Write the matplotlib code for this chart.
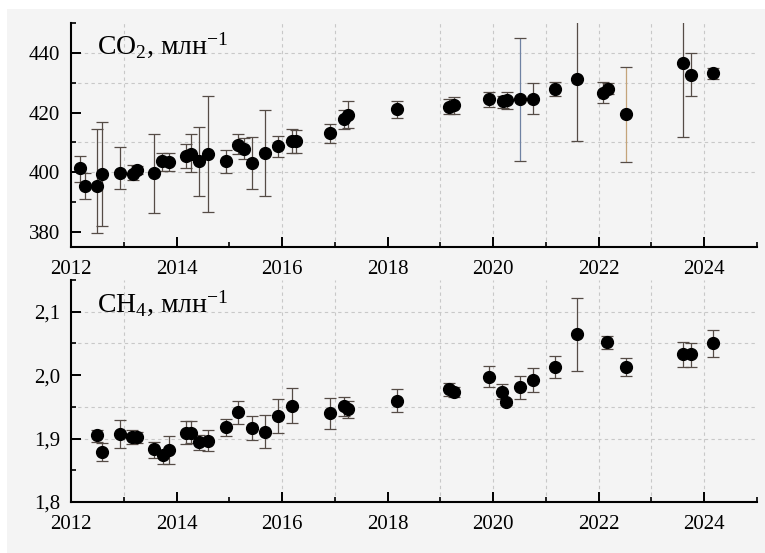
import matplotlib
matplotlib.use("Agg")
import matplotlib.pyplot as plt
from matplotlib.patches import Rectangle
import numpy as np

# CO2, ppm
co2_year = [2012.17, 2012.27, 2012.50, 2012.59, 2012.92, 2013.17, 2013.26, 2013.58,
            2013.73, 2013.86, 2014.17, 2014.27, 2014.43, 2014.59, 2014.93, 2015.16,
            2015.27, 2015.43, 2015.67, 2015.93, 2016.18, 2016.26, 2016.91, 2017.17,
            2017.25, 2018.17, 2019.17, 2019.26, 2019.92, 2020.18, 2020.26, 2020.51,
            2020.75, 2021.17, 2021.59, 2022.09, 2022.17, 2022.51, 2023.59, 2023.75,
            2024.17]
co2_value = [401.3, 395.4, 395.4, 399.4, 399.9, 399.4, 400.8, 399.7, 403.9, 403.5,
             405.5, 406.1, 403.7, 406.1, 403.7, 409.1, 407.9, 403.0, 406.6, 408.8,
             410.6, 410.4, 413.2, 417.8, 419.2, 421.1, 422.0, 422.4, 424.4, 423.9,
             424.2, 424.4, 424.7, 427.8, 431.2, 426.7, 428.0, 419.4, 436.7, 432.6,
             433.2]
co2_hi = [405.6, 399.7, 414.5, 416.7, 408.6, 402.4, 402.1, 412.7, 406.6, 406.6,
          409.4, 412.7, 415.3, 425.7, 407.5, 412.7, 411.6, 411.7, 420.9, 412.3,
          414.6, 414.2, 416.2, 420.9, 423.8, 424.0, 424.6, 425.1, 426.8, 425.6,
          426.9, 444.9, 430.0, 430.1, 451.8, 430.1, 429.9, 435.4, 461.7, 440.1,
          434.8]
co2_lo = [396.9, 391.1, 379.6, 382.1, 394.4, 397.4, 399.5, 386.5, 400.4, 400.4,
          401.5, 400.0, 392.1, 386.7, 399.9, 406.1, 404.4, 394.4, 392.1, 405.0,
          406.6, 406.6, 409.9, 414.4, 414.9, 418.3, 419.4, 419.4, 422.0, 421.6,
          421.3, 403.9, 419.4, 425.6, 410.6, 423.1, 426.1, 403.6, 411.7, 425.4,
          431.3]

# CH4, ppm
ch4_year = [2012.50, 2012.59, 2012.92, 2013.16, 2013.26, 2013.58, 2013.75, 2013.86,
            2014.17, 2014.27, 2014.43, 2014.59, 2014.93, 2015.17, 2015.43, 2015.67,
            2015.93, 2016.18, 2016.91, 2017.17, 2017.25, 2018.17, 2019.17, 2019.26,
            2019.92, 2020.17, 2020.24, 2020.51, 2020.75, 2021.17, 2021.59, 2022.16,
            2022.51, 2023.59, 2023.75, 2024.17]
ch4_value = [1.905, 1.879, 1.907, 1.902, 1.902, 1.883, 1.874, 1.882, 1.909, 1.909,
             1.894, 1.896, 1.918, 1.942, 1.916, 1.911, 1.936, 1.952, 1.940, 1.951,
             1.946, 1.960, 1.978, 1.974, 1.997, 1.974, 1.958, 1.981, 1.993, 2.013,
             2.065, 2.052, 2.013, 2.033, 2.033, 2.050]
ch4_hi = [1.913, 1.893, 1.930, 1.914, 1.911, 1.895, 1.882, 1.904, 1.928, 1.927,
          1.906, 1.913, 1.931, 1.960, 1.936, 1.937, 1.962, 1.980, 1.964, 1.966,
          1.960, 1.978, 1.987, 1.982, 2.014, 1.986, 1.963, 1.998, 2.011, 2.030,
          2.122, 2.061, 2.027, 2.053, 2.051, 2.071]
ch4_lo = [1.894, 1.865, 1.885, 1.891, 1.893, 1.870, 1.860, 1.860, 1.892, 1.893,
          1.882, 1.881, 1.904, 1.923, 1.897, 1.885, 1.909, 1.924, 1.915, 1.936,
          1.933, 1.942, 1.967, 1.966, 1.981, 1.962, 1.953, 1.963, 1.974, 1.995,
          2.007, 2.042, 1.999, 2.013, 2.013, 2.028]

year_ticks = np.arange(2012, 2025, 2)
grid_years = [2013, 2016, 2017, 2019, 2020, 2021, 2022, 2023, 2024]

BG = '#f4f4f4'
plt.rcParams['font.family'] = ['Liberation Serif', 'DejaVu Serif']
plt.rcParams['mathtext.fontset'] = 'custom'
plt.rcParams['mathtext.rm'] = 'Liberation Serif'
plt.rcParams['mathtext.it'] = 'Liberation Serif:italic'

fig = plt.figure(figsize=(7.65, 5.53), dpi=100, facecolor='white')
fig.patches.append(Rectangle((7 / 765, 0), 1, 1 - 9 / 553, transform=fig.transFigure,
                             facecolor=BG, edgecolor='none', zorder=-10))

ax1 = fig.add_axes([71 / 765, 306 / 553, 686 / 765, 224 / 553])
ax2 = fig.add_axes([71 / 765, 51 / 553, 686 / 765, 222 / 553])


def draw_panel(ax, x, y, lo, hi, ylim, major, minor, hgrid, label, label_y, tint):
    ax.set_facecolor(BG)
    y = np.array(y)
    yerr = [y - np.array(lo), np.array(hi) - y]
    eb = ax.errorbar(x, y, yerr=yerr, fmt='o', color='black', markersize=8.5,
                     ecolor='#554c46', elinewidth=0.9, capsize=4, capthick=0.9,
                     zorder=3, clip_on=True)
    # a few bars carry a different tint in the original
    colors = ['#554c46'] * len(x)
    for i, c in tint.items():
        colors[i] = c
    eb[2][0].set_color(colors)

    ax.set_xlim(2012, 2025)
    ax.set_ylim(*ylim)
    ax.set_xticks(year_ticks)
    ax.set_xticks(np.arange(2013, 2026, 2), minor=True)
    ax.set_yticks(major)
    ax.set_yticks(minor, minor=True)
    for gx in grid_years:
        ax.axvline(gx, color='#c8c8c8', lw=0.8, ls=(0, (3, 3)), zorder=1)
    for gy in hgrid:
        ax.axhline(gy, color='#c8c8c8', lw=0.8, ls=(0, (3, 3)), zorder=1)

    for side in ['top', 'right']:
        ax.spines[side].set_visible(False)
    for side in ['left', 'bottom']:
        ax.spines[side].set_linewidth(1.5)
    ax.tick_params(which='major', direction='in', length=7, width=1.4,
                   labelsize=15, pad=8)
    ax.tick_params(axis='x', which='major', pad=9.5)
    ax.tick_params(which='minor', direction='in', length=3.8, width=1.2)
    ax.text(0.038, label_y, label, transform=ax.transAxes,
            fontsize=20, va='baseline', ha='left')


draw_panel(ax1, co2_year, co2_value, co2_lo, co2_hi, (375, 450),
           [380, 400, 420, 440], [390, 410, 430, 450], [400, 410, 430, 440],
           r'CO$_2$, млн$^{\mathregular{-1}}$', 0.862, {31: '#6f82a3', 37: '#c4a47a'})
ax1.set_yticklabels(['380', '400', '420', '440'])

draw_panel(ax2, ch4_year, ch4_value, ch4_lo, ch4_hi, (1.8, 2.15),
           [1.8, 1.9, 2.0, 2.1], [1.85, 1.95, 2.05, 2.15], [1.9, 1.95, 2.05, 2.1],
           r'CH$_4$, млн$^{\mathregular{-1}}$', 0.856, {})
ax2.set_yticklabels(['1,8', '1,9', '2,0', '2,1'])

fig.savefig('out.png', dpi=100, facecolor=fig.get_facecolor())
